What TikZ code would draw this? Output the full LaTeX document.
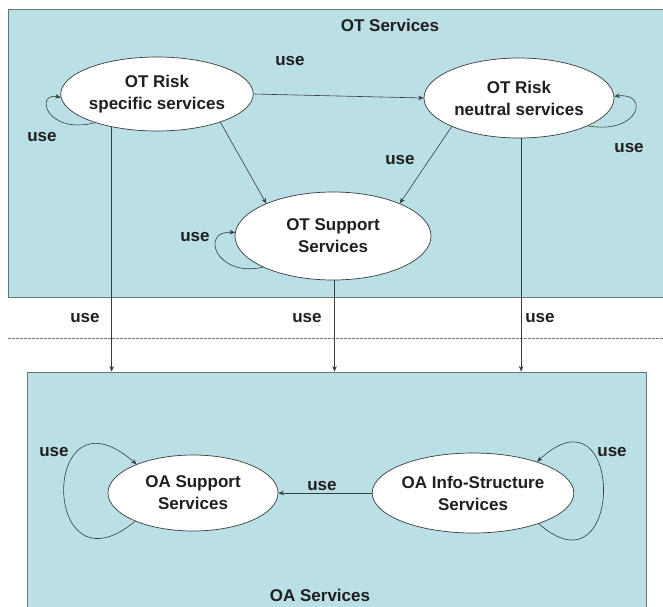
\documentclass[tikz,border=0pt]{standalone}
\usepackage{fontspec}
\setmainfont{Liberation Sans}
\usetikzlibrary{shapes.geometric,arrows.meta}
\definecolor{panel}{RGB}{186,223,229}
\definecolor{edge}{RGB}{55,60,62}
\definecolor{frame}{RGB}{105,118,122}
\begin{document}
\begin{tikzpicture}[x=1pt,y=-1pt,
  lbl/.style={font=\fontsize{17}{20}\selectfont\bfseries, inner sep=0pt, text=black!88},
  svc/.style={ellipse, draw=edge, fill=white, line width=0.7pt, inner sep=0pt,
    align=center, text=black!88, font=\fontsize{17}{22}\selectfont\bfseries},
  area/.style={rectangle, draw=frame, fill=panel, line width=0.9pt, inner sep=0pt},
  link/.style={draw=edge, line width=0.6pt, -{Stealth[length=5.5pt,width=4.5pt]}}
]
\useasboundingbox (0,0) rectangle (663,606);

% the two service areas
\node[area, minimum width=662pt, minimum height=288pt] (OT) at (339,153) {};
\node[area, minimum width=619pt, minimum height=246pt] (OA) at (336.5,495) {};

% separator between the areas
\coordinate (sepL) at (8,338);
\coordinate (sepR) at (663,338);
\draw[frame, line width=0.7pt, dash pattern=on 2.5pt off 1.5pt] (sepL) -- (sepR);

% services
\node[svc, minimum width=184pt, minimum height=74pt] (A) at (157,94) {OT Risk\\specific services};
\node[svc, minimum width=190pt, minimum height=80pt] (B) at (519,98) {OT Risk\\neutral services};
\node[svc, minimum width=196pt, minimum height=88pt] (C) at (333,236) {OT Support\\Services};
\node[svc, minimum width=170pt, minimum height=76pt] (D) at (193,493) {OA Support\\Services};
\node[svc, minimum width=180pt, minimum height=80pt] (E) at (473,493) {OA Info-Structure\\Services};

% area titles
\node[lbl] (otTitle) at (390,25) {OT Services};
\node[lbl] (oaTitle) at (320,595) {OA Services};

% uses inside the OT area
\draw[link] (A.east) -- (B.west);
\draw[link] (A.-24) -- (C.154);
\draw[link] (B.203) -- (C.26);

% self uses
\draw[link] (A.205) .. controls (45,135) and (35,92) .. (A.182);
\draw[link] (B.-22) .. controls (640,135) and (650,92) .. (B.1);
\draw[link] (C.204) .. controls (215,278) and (200,230) .. (C.178);
\draw[link] (D.206) .. controls (40,600) and (40,380) .. (D.153);
\draw[link] (E.-25) .. controls (625,600) and (625,380) .. (E.26);

% uses from the OT area down into the OA area
\draw[link] (A.216.5) -- (A.216.5 |- OA.north);
\draw[link] (C.-88) -- (C.-88 |- OA.north);
\draw[link] (B.-87) -- (B.-87 |- OA.north);

% use inside the OA area
\draw[link] (E.west) -- (D.east);

% labels
\node[lbl] (uAB) at (290,61) {use};
\node[lbl] (uBC) at (400,160) {use};
\node[lbl] (uA) at (42,137) {use};
\node[lbl] (uB) at (629,148) {use};
\node[lbl] (uC) at (195,237) {use};
\node[lbl] (vA) at (85,318) {use};
\node[lbl] (vC) at (307,318) {use};
\node[lbl] (vB) at (540,318) {use};
\node[lbl] (uD) at (54,452) {use};
\node[lbl] (uE) at (612,452) {use};
\node[lbl] (uED) at (322,486) {use};
\end{tikzpicture}
\end{document}
